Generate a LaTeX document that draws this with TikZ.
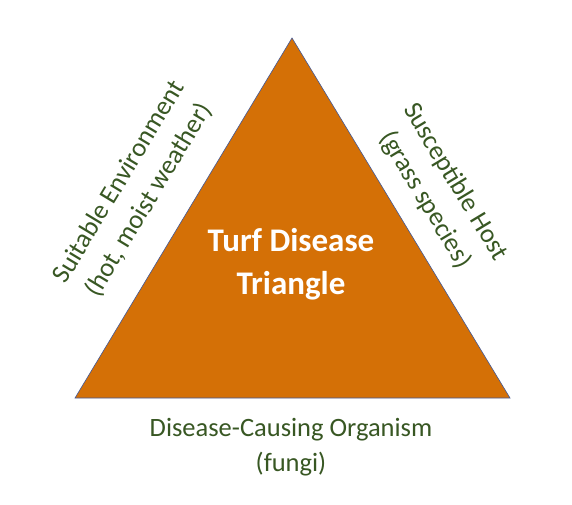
\documentclass[tikz,border=0pt]{standalone}
\usepackage{fontspec}
\setmainfont{Carlito}
\definecolor{tri}{HTML}{D47006}
\definecolor{triedge}{HTML}{41599A}
\definecolor{lbl}{HTML}{385723}
\begin{document}
\begin{tikzpicture}[x=1pt,y=-1pt,
  lab/.style={text=lbl,align=center,font=\fontsize{26.5}{35}\selectfont,inner sep=0pt},
  ttl/.style={text=white,align=center,font=\fontsize{33}{43}\selectfont\bfseries,inner sep=0pt}]
\useasboundingbox (0,0) rectangle (572,505);
\coordinate (A) at (292,38);
\coordinate (B) at (75,398);
\coordinate (C) at (510,398);
\filldraw[fill=tri,draw=triedge,line width=0.6pt] (A) -- (B) -- (C) -- cycle;
\node[ttl] (title) at (291,264) {Turf Disease\\Triangle};
\node[lab,rotate=58.9] (env) at (134,191) {Suitable Environment\\(hot, moist weather)};
\node[lab,rotate=-58.9] (host) at (440,191) {Susceptible Host\\(grass species)};
\node[lab] (org) at (291,447) {Disease-Causing Organism\\(fungi)};
\end{tikzpicture}
\end{document}
